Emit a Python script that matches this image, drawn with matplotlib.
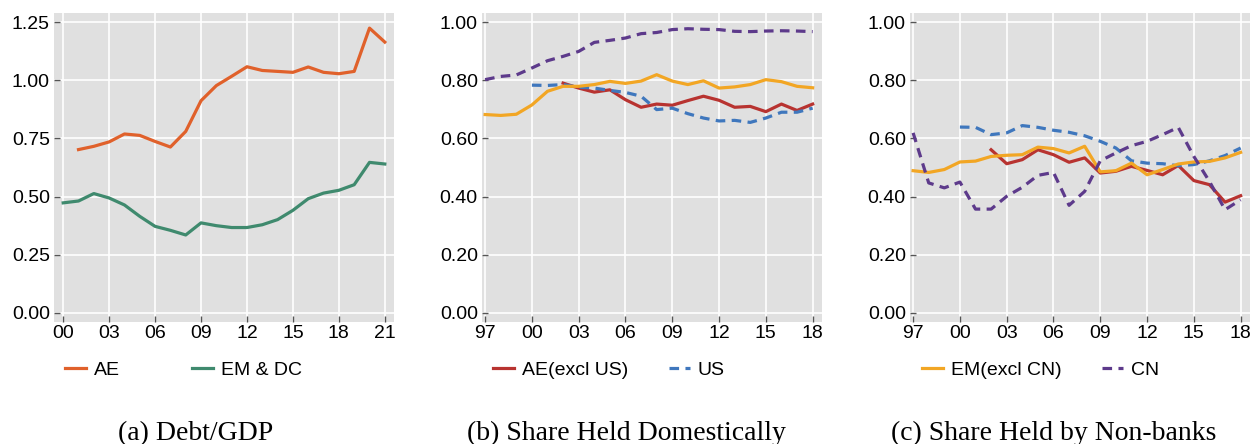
import numpy as np
import matplotlib.pyplot as plt

# Panel (a): debt / GDP
years_a = list(range(2000, 2022))
ae_debt = [np.nan, 0.702, 0.716, 0.735, 0.769, 0.763, 0.737, 0.713, 0.780, 0.912, 0.977,
           1.017, 1.058, 1.042, 1.038, 1.034, 1.057, 1.034, 1.028, 1.038, 1.224, 1.164]
em_debt = [0.473, 0.481, 0.513, 0.494, 0.464, 0.415, 0.372, 0.355, 0.335, 0.387, 0.375,
           0.367, 0.367, 0.379, 0.401, 0.441, 0.491, 0.515, 0.527, 0.551, 0.647, 0.640]

# Panels (b), (c): 1997-2018
years_bc = list(range(1997, 2019))
na = np.nan
# (b) share held domestically
b_ae_exus = [na, na, na, na, na, 0.790, 0.773, 0.759, 0.767, 0.733, 0.707,
             0.718, 0.714, 0.730, 0.745, 0.731, 0.707, 0.710, 0.692, 0.718, 0.696, 0.718]
b_us = [na, na, na, 0.783, 0.782, 0.785, 0.776, 0.773, 0.765, 0.758, 0.745,
        0.699, 0.704, 0.685, 0.670, 0.660, 0.662, 0.655, 0.670, 0.690, 0.690, 0.704]
b_em_excn = [0.682, 0.679, 0.683, 0.715, 0.762, 0.779, 0.779, 0.785, 0.796, 0.789, 0.797,
             0.819, 0.797, 0.785, 0.798, 0.773, 0.777, 0.785, 0.802, 0.795, 0.779, 0.774]
b_cn = [0.802, 0.813, 0.818, 0.842, 0.867, 0.882, 0.899, 0.930, 0.937, 0.945, 0.960,
        0.964, 0.974, 0.977, 0.975, 0.974, 0.968, 0.967, 0.969, 0.970, 0.969, 0.967]
# (c) share held by non-banks
c_ae_exus = [na, na, na, na, na, 0.561, 0.513, 0.527, 0.561, 0.544, 0.518,
             0.533, 0.481, 0.487, 0.504, 0.490, 0.475, 0.507, 0.455, 0.441, 0.381, 0.403]
c_us = [na, na, na, 0.639, 0.638, 0.613, 0.619, 0.644, 0.638, 0.628, 0.621,
        0.609, 0.590, 0.567, 0.523, 0.515, 0.513, 0.506, 0.510, 0.523, 0.541, 0.567]
c_em_excn = [0.489, 0.483, 0.493, 0.519, 0.522, 0.538, 0.542, 0.544, 0.570, 0.565, 0.550,
             0.573, 0.485, 0.489, 0.515, 0.475, 0.493, 0.512, 0.519, 0.521, 0.533, 0.552]
c_cn = [0.619, 0.447, 0.430, 0.450, 0.357, 0.357, 0.401, 0.432, 0.473, 0.483, 0.370,
        0.418, 0.523, 0.550, 0.575, 0.590, 0.613, 0.638, 0.538, 0.452, 0.355, 0.389]

captions = ['(a) Debt/GDP', '(b) Share Held Domestically', '(c) Share Held by Non-banks']

c_ae = '#E0612B'
c_em = '#3F8A6E'
c_red = '#B83330'
c_blue = '#3F77BD'
c_orange = '#F2A624'
c_purple = '#5D3A8B'

plt.rcParams['font.family'] = ['Liberation Sans', 'DejaVu Sans']

fig = plt.figure(figsize=(12.52, 4.44), dpi=100)
W, H = 1252, 444
boxes = [(54, 394), (482, 822), (910, 1250)]
axes = []
for left, right in boxes:
    ax = fig.add_axes([left / W, 1 - 322 / H, (right - left) / W, (322 - 13) / H])
    ax.set_facecolor('#E0E0E0')
    for s in ax.spines.values():
        s.set_visible(False)
    ax.grid(True, color='white', linewidth=1.2)
    ax.set_axisbelow(True)
    ax.tick_params(labelsize=14, direction='in', length=4, width=1, color='#555555')
    ax.tick_params(axis='y', pad=3)
    ax.tick_params(axis='x', pad=2)
    axes.append(ax)

lw = 2.3
dash = (0, (3, 2))
ax1, ax2, ax3 = axes
l_ae, = ax1.plot(years_a, ae_debt, color=c_ae, lw=lw, label='AE')
l_em, = ax1.plot(years_a, em_debt, color=c_em, lw=lw, label='EM & DC')
ax1.set_xlim(1999.4, 2021.6)
ax1.set_ylim(-0.039, 1.289)
ax1.set_xticks(range(2000, 2022, 3))
ax1.set_xticklabels(['%02d' % (y % 100) for y in range(2000, 2022, 3)])
ax1.set_yticks([0, 0.25, 0.5, 0.75, 1.0, 1.25])
ax1.set_yticklabels(['%.2f' % v for v in [0, 0.25, 0.5, 0.75, 1.0, 1.25]])

handles = {}
for ax, series in [(ax2, [b_ae_exus, b_us, b_em_excn, b_cn]),
                   (ax3, [c_ae_exus, c_us, c_em_excn, c_cn])]:
    h_red, = ax.plot(years_bc, series[0], color=c_red, lw=lw, label='AE(excl US)')
    h_blue, = ax.plot(years_bc, series[1], color=c_blue, lw=lw, ls=dash, label='US')
    h_or, = ax.plot(years_bc, series[2], color=c_orange, lw=lw, label='EM(excl CN)')
    h_pu, = ax.plot(years_bc, series[3], color=c_purple, lw=lw, ls=dash, label='CN')
    handles[ax] = (h_red, h_blue, h_or, h_pu)
    ax.set_xlim(1996.8, 2018.6)
    ax.set_ylim(-0.031, 1.031)
    ax.set_xticks(range(1997, 2019, 3))
    ax.set_xticklabels(['%02d' % (y % 100) for y in range(1997, 2019, 3)])
    ax.set_yticks([0, 0.2, 0.4, 0.6, 0.8, 1.0])
    ax.set_yticklabels(['%.2f' % v for v in [0, 0.2, 0.4, 0.6, 0.8, 1.0]])

# legend entries placed one by one under each panel
entries = [(l_ae, 65), (l_em, 192),
           (handles[ax2][0], 493), (handles[ax2][1], 669),
           (handles[ax3][2], 922), (handles[ax3][3], 1102)]
for h, x in entries:
    fig.legend(handles=[h], loc='center left', bbox_to_anchor=(x / W, 1 - 370 / H),
               frameon=False, fontsize=14, handlelength=1.08, handletextpad=0.4,
               borderpad=0, borderaxespad=0)

for cx, cap in zip([196, 626, 1054], captions):
    fig.text(cx / W, 1 - 440 / H, cap, ha='center', va='baseline',
             fontsize=20, family=['Liberation Serif', 'DejaVu Serif'])

fig.savefig('out.png', dpi=100)
